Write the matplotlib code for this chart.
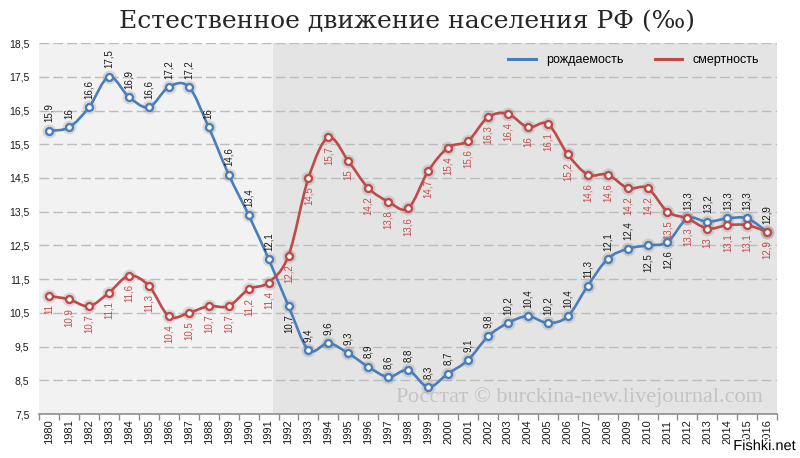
import matplotlib
matplotlib.use('Agg')
import matplotlib.pyplot as plt
import matplotlib.patheffects as pe
from matplotlib.path import Path
from matplotlib.patches import PathPatch

# Данные (‰)
years = list(range(1980, 2017))
birth = [15.9, 16, 16.6, 17.5, 16.9, 16.6, 17.2, 17.2, 16, 14.6, 13.4, 12.1,
         10.7, 9.4, 9.6, 9.3, 8.9, 8.6, 8.8, 8.3, 8.7, 9.1, 9.8, 10.2, 10.4,
         10.2, 10.4, 11.3, 12.1, 12.4, 12.5, 12.6, 13.3, 13.2, 13.3, 13.3, 12.9]
death = [11, 10.9, 10.7, 11.1, 11.6, 11.3, 10.4, 10.5, 10.7, 10.7, 11.2, 11.4,
         12.2, 14.5, 15.7, 15, 14.2, 13.8, 13.6, 14.7, 15.4, 15.6, 16.3, 16.4,
         16, 16.1, 15.2, 14.6, 14.6, 14.2, 14.2, 13.5, 13.3, 13, 13.1, 13.1, 12.9]
birth_below = [1992, 2010, 2011]  # подписи рождаемости под точкой
yticks = [7.5, 8.5, 9.5, 10.5, 11.5, 12.5, 13.5, 14.5, 15.5, 16.5, 17.5, 18.5]

BLUE = '#4a7ebb'
RED = '#be4b48'
SANS = 'Liberation Sans'


def fmt(v):
    return ('%g' % v).replace('.', ',')


def smooth_path(x, y):
    # сглаженная линия как в Excel (кривые Безье)
    verts = [(x[0], y[0])]
    codes = [Path.MOVETO]
    n = len(x)
    for i in range(n - 1):
        x0, y0 = (x[i - 1], y[i - 1]) if i > 0 else (x[i], y[i])
        x3, y3 = (x[i + 2], y[i + 2]) if i < n - 2 else (x[i + 1], y[i + 1])
        c1 = (x[i] + (x[i + 1] - x0) / 6, y[i] + (y[i + 1] - y0) / 6)
        c2 = (x[i + 1] - (x3 - x[i]) / 6, y[i + 1] - (y3 - y[i]) / 6)
        verts += [c1, c2, (x[i + 1], y[i + 1])]
        codes += [Path.CURVE4] * 3
    return Path(verts, codes)


fig = plt.figure(figsize=(8, 4.58), dpi=100)
ax = fig.add_axes([0.049, 0.096, 0.9225, 0.81])
idx = list(range(len(years)))

ax.axvspan(-0.5, 11.2, color='#f2f2f2', lw=0, zorder=0)
ax.axvspan(11.2, 36.5, color='#e4e4e4', lw=0, zorder=0)

for yv in yticks[1:]:
    ax.axhline(yv, color='#bcbcbc', lw=1, dashes=(7, 3), zorder=1)

for vals, col in [(birth, BLUE), (death, RED)]:
    ax.add_patch(PathPatch(smooth_path(idx, vals), fill=False, ec=col, lw=1.9, zorder=3,
                           capstyle='round', joinstyle='round'))
    ax.plot(idx, vals, 'o', ms=10, color='#888888', alpha=0.25, mew=0, zorder=2)
    ax.plot(idx, vals, 'o', ms=5, mfc='white', mec=col, mew=1.7, zorder=4)

LBL = 7
for i, (y, b, d) in enumerate(zip(years, birth, death)):
    if y in birth_below:
        ax.annotate(fmt(b), (i, b), xytext=(0, -6), textcoords='offset points', rotation=90,
                    ha='center', va='top', fontsize=LBL, color='#1a1a1a', family=SANS, zorder=5)
    else:
        ax.annotate(fmt(b), (i, b), xytext=(0, 6), textcoords='offset points', rotation=90,
                    ha='center', va='bottom', fontsize=LBL, color='#1a1a1a', family=SANS, zorder=5)
    ax.annotate(fmt(d), (i, d), xytext=(0, -6), textcoords='offset points', rotation=90,
                ha='center', va='top', fontsize=LBL, color='#c0504d', family=SANS, zorder=5)

ax.set_xlim(-0.5, 36.5)
ax.set_ylim(7.5, 18.5)
ax.set_yticks(yticks)
ax.set_yticklabels([fmt(v) for v in yticks], fontsize=7.5, family=SANS, color='#1a1a1a')
ax.set_xticks(idx)
ax.set_xticklabels([str(y) for y in years], rotation=90, fontsize=8, family=SANS, color='#1a1a1a')
ax.set_xticks([i - 0.5 for i in range(len(years) + 1)], minor=True)
ax.tick_params(axis='y', length=0, pad=7)
ax.tick_params(axis='x', which='major', length=0, pad=4)
ax.tick_params(axis='x', which='minor', length=4, color='#8c8c8c', width=1)
for s in ['top', 'right', 'left']:
    ax.spines[s].set_visible(False)
ax.spines['bottom'].set_color('#8c8c8c')
ax.spines['bottom'].set_linewidth(1.2)
ax.spines['bottom'].set_zorder(6)

h1, = ax.plot([], [], color=BLUE, lw=2.2)
h2, = ax.plot([], [], color=RED, lw=2.2)
ax.legend([h1, h2], ['рождаемость', 'смертность'], ncol=2, frameon=False,
          loc='upper right', bbox_to_anchor=(0.99, 1.0), prop={'family': SANS, 'size': 9},
          handlelength=2.2, columnspacing=2.5, handletextpad=0.8)

fig.text(0.509, 0.952, 'Естественное движение населения РФ (‰)', ha='center', va='center',
         fontsize=18, family='DejaVu Serif', color='#262626')
ax.text(26.6, 8.0, 'Росстат © burckina-new.livejournal.com', ha='center', va='center',
        fontsize=16, family='Liberation Serif', color='#c4c4c4', zorder=1)
fig.text(0.956, 0.026, 'Fishki.net', ha='center', va='center', fontsize=10.5, family=SANS,
         color='black', path_effects=[pe.withStroke(linewidth=2.5, foreground='white')])

fig.savefig('out.png', dpi=100)
